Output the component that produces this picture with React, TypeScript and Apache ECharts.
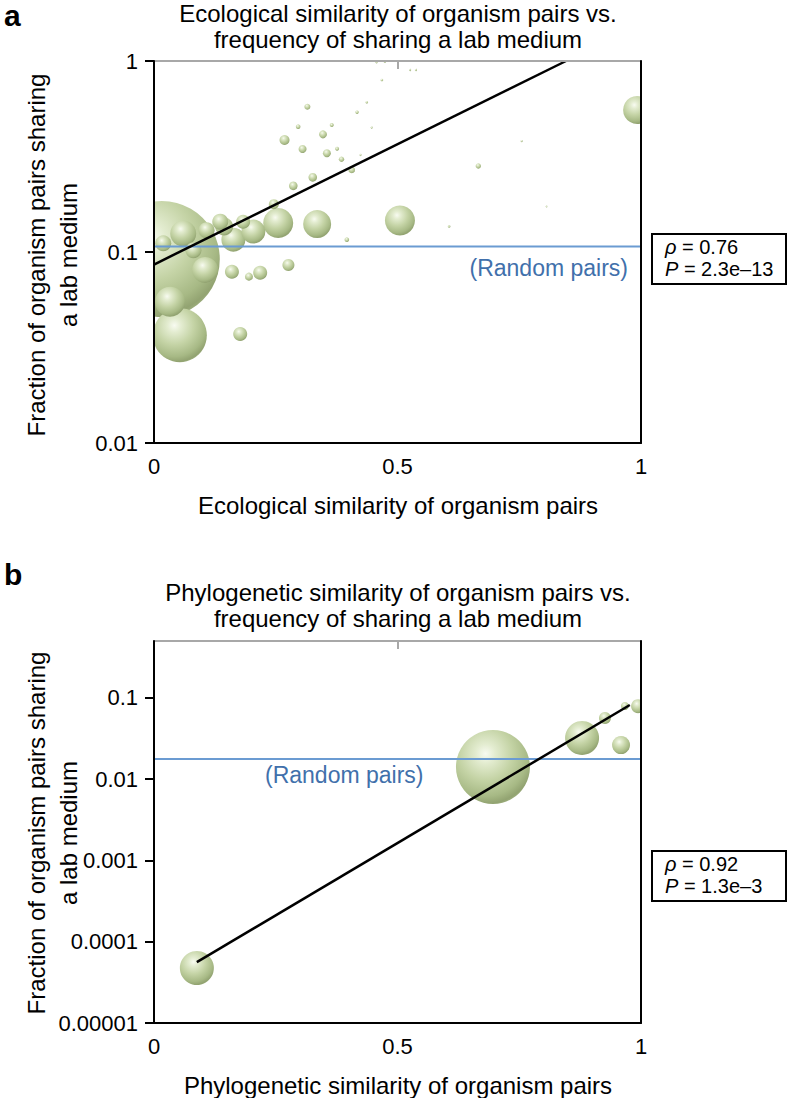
import React, { useEffect, useRef } from 'react';
import * as echarts from 'echarts';

const FONT = '"Liberation Sans", Arial, Helvetica, sans-serif';

// ---------- Panel a : ecological similarity ----------
const ecoX = [0.016, 0.053, 0.033, 0.255, 0.505, 0.335, 0.992, 0.060, 0.105, 0.163, 0.204, 0.144, 0.136, 0.108, 0.081, 0.019, 0.160, 0.218, 0.183, 0.177, 0.276, 0.268, 0.246, 0.195, 0.347, 0.305, 0.355, 0.326, 0.286, 0.315, 0.406, 0.385, 0.666, 0.296, 0.396, 0.365, 0.376, 0.417, 0.437, 0.468, 0.606, 0.424, 0.447, 0.526, 0.538, 0.755, 0.457, 0.474, 0.806];
const ecoY = [0.092, 0.0367, 0.0549, 0.142, 0.146, 0.140, 0.554, 0.125, 0.0805, 0.116, 0.128, 0.136, 0.144, 0.130, 0.102, 0.111, 0.0788, 0.0779, 0.144, 0.0372, 0.0855, 0.386, 0.178, 0.0743, 0.413, 0.346, 0.329, 0.246, 0.222, 0.576, 0.269, 0.306, 0.282, 0.453, 0.116, 0.462, 0.347, 0.539, 0.608, 0.795, 0.136, 0.322, 0.448, 0.897, 0.897, 0.381, 0.984, 0.99, 0.173];
const ecoWeight = [58, 27, 15, 15, 15, 14, 14, 13, 13, 12, 12, 9, 8, 8, 8, 8, 7, 7, 7, 7, 6, 5, 5, 4, 4, 4, 4, 4.3, 4.3, 3, 3.3, 2.7, 2.7, 2.3, 2.3, 2, 2, 1.7, 1.3, 1.3, 1.3, 1, 1, 1, 1, 1, 1, 1, 0.8];
const ecoFitX = [0, 0.846];
const ecoFitY = [0.086, 1];
const ecoRandom = 0.107;
const ecoYTicks = [0.01, 0.1, 1];
const ecoYTickLabels = ['0.01', '0.1', '1'];
const ecoStats = ['0.76', '2.3e\u201313'];

// ---------- Panel b : phylogenetic similarity ----------
const phyX = [0.696, 0.879, 0.088, 0.959, 0.994, 0.926, 0.967];
const phyY = [0.0141, 0.0321, 0.0000475, 0.0262, 0.079, 0.0565, 0.0794];
const phyWeight = [37, 17, 17, 9, 7, 6, 4];
const phyFitX = [0.088, 0.977];
const phyFitY = [0.000056, 0.0815];
const phyRandom = 0.0177;
const phyYTicks = [0.00001, 0.0001, 0.001, 0.01, 0.1];
const phyYTickLabels = ['0.00001', '0.0001', '0.001', '0.01', '0.1'];
const phyStats = ['0.92', '1.3e\u20133'];

const xTicks = [0, 0.5, 1];
const xTickLabels = ['0', '0.5', '1'];

function labelFor(ticks: number[], labels: string[], log: boolean) {
  return (v: number) => {
    for (let i = 0; i < ticks.length; i++) {
      const d = log ? Math.abs(Math.log10(v) - Math.log10(ticks[i])) : Math.abs(v - ticks[i]);
      if (d < 1e-6) return labels[i];
    }
    return '';
  };
}

function sphereFill() {
  return new echarts.graphic.RadialGradient(0.4, 0.32, 0.72, [
    { offset: 0, color: '#f8fbf1' },
    { offset: 0.18, color: '#e3ecd0' },
    { offset: 0.5, color: '#c4d3a5' },
    { offset: 0.8, color: '#a7b985' },
    { offset: 0.94, color: '#92a371' },
    { offset: 1, color: '#a0b180' },
  ]);
}

function bubbleSeries(xs: number[], ys: number[], ws: number[], axisIndex: number) {
  const order = xs.map((_, i) => i).sort((a, b) => ws[b] - ws[a]);
  return {
    type: 'custom',
    xAxisIndex: axisIndex,
    yAxisIndex: axisIndex,
    clip: true,
    z: 2,
    silent: true,
    data: order.map((i) => [xs[i], ys[i], ws[i]]),
    encode: { x: 0, y: 1 },
    renderItem: (_params: any, api: any) => {
      const c = api.coord([api.value(0), api.value(1)]);
      const r = api.value(2);
      return {
        type: 'circle',
        shape: { cx: c[0], cy: c[1], r },
        style: { fill: sphereFill(), stroke: null },
      };
    },
  };
}

function lineSeries(xs: number[], ys: number[], axisIndex: number, color: string, width: number) {
  return {
    type: 'line',
    xAxisIndex: axisIndex,
    yAxisIndex: axisIndex,
    data: xs.map((x, i) => [x, ys[i]]),
    symbol: 'none',
    silent: true,
    z: 3,
    lineStyle: { color, width },
  };
}

function bottomX(gi: number) {
  return {
    gridIndex: gi,
    type: 'value',
    position: 'bottom',
    min: 0,
    max: 1,
    interval: 0.5,
    z: 10,
    axisLine: { show: true, onZero: false, lineStyle: { color: '#000', width: 2 } },
    axisTick: { show: false },
    splitLine: { show: false },
    axisLabel: {
      color: '#000',
      fontSize: 22,
      fontFamily: FONT,
      margin: 12,
      formatter: labelFor(xTicks, xTickLabels, false),
    },
  };
}

function topX(gi: number) {
  return {
    gridIndex: gi,
    type: 'value',
    position: 'top',
    min: 0,
    max: 1,
    interval: 0.5,
    z: 9,
    axisLine: { show: true, onZero: false, lineStyle: { color: '#a8a8a8', width: 2 } },
    axisTick: { show: true, inside: true, length: 8, lineStyle: { color: '#a8a8a8', width: 2 } },
    axisLabel: { show: false },
    splitLine: { show: false },
  };
}

function leftY(gi: number, min: number, max: number, ticks: number[], labels: string[], custom: boolean) {
  const tick: any = { show: true, length: 9, lineStyle: { color: '#000', width: 2 } };
  const label: any = {
    color: '#000',
    fontSize: 22,
    fontFamily: FONT,
    margin: 16,
    formatter: labelFor(ticks, labels, true),
  };
  if (custom) {
    tick.customValues = ticks;
    label.customValues = ticks;
  }
  return {
    gridIndex: gi,
    type: 'log',
    logBase: 10,
    min,
    max,
    position: 'left',
    z: 10,
    axisLine: { show: true, onZero: false, lineStyle: { color: '#000', width: 2 } },
    axisTick: tick,
    axisLabel: label,
    splitLine: { show: false },
    minorTick: { show: false },
  };
}

function rightY(gi: number, min: number, max: number) {
  return {
    gridIndex: gi,
    type: 'log',
    logBase: 10,
    min,
    max,
    position: 'right',
    z: 10,
    axisLine: { show: true, onZero: false, lineStyle: { color: '#000', width: 2 } },
    axisTick: { show: false },
    axisLabel: { show: false },
    splitLine: { show: false },
  };
}

function txt(text: string, x: number, y: number, size: number, extra: any = {}) {
  return {
    type: 'text',
    z: 50,
    x,
    y,
    rotation: extra.rotation || 0,
    style: {
      text,
      x: 0,
      y: 0,
      fill: extra.fill || '#000',
      fontSize: size,
      fontFamily: FONT,
      fontWeight: extra.weight || 'normal',
      align: extra.align || 'center',
      textAlign: extra.align || 'center',
      verticalAlign: 'middle',
      textVerticalAlign: 'middle',
      lineHeight: extra.lineHeight || size * 1.2,
      rich: extra.rich,
    },
  };
}

function statsBox(top: number, stats: string[]) {
  const rich = { i: { fontStyle: 'italic', fontSize: 20, fontFamily: FONT, fill: '#000' } };
  return [
    {
      type: 'rect',
      z: 50,
      shape: { x: 652, y: top, width: 134, height: 50 },
      style: { fill: '#fff', stroke: '#000', lineWidth: 2 },
    },
    txt('{i|\u03c1} = ' + stats[0], 665, top + 13, 20, { align: 'left', rich }),
    txt('{i|P} = ' + stats[1], 665, top + 35, 20, { align: 'left', rich }),
  ];
}

function buildOption() {
  const blueText = '#4170ab';
  return {
    animation: false,
    backgroundColor: '#fff',
    grid: [
      { left: 154, top: 61, width: 487, height: 382, outerBoundsMode: 'none', containLabel: false },
      { left: 154, top: 641, width: 487, height: 382, outerBoundsMode: 'none', containLabel: false },
    ],
    xAxis: [bottomX(0), topX(0), bottomX(1), topX(1)],
    yAxis: [
      leftY(0, 0.01, 1, ecoYTicks, ecoYTickLabels, false),
      rightY(0, 0.01, 1),
      leftY(1, 0.00001, 0.5, phyYTicks, phyYTickLabels, true),
      rightY(1, 0.00001, 0.5),
    ],
    series: [
      bubbleSeries(ecoX, ecoY, ecoWeight, 0),
      lineSeries([0, 1], [ecoRandom, ecoRandom], 0, '#6b9bd2', 2),
      lineSeries(ecoFitX, ecoFitY, 0, '#000', 2.5),
      { ...bubbleSeries(phyX, phyY, phyWeight, 0), xAxisIndex: 2, yAxisIndex: 2 },
      { ...lineSeries([0, 1], [phyRandom, phyRandom], 0, '#6b9bd2', 2), xAxisIndex: 2, yAxisIndex: 2 },
      { ...lineSeries(phyFitX, phyFitY, 0, '#000', 2.5), xAxisIndex: 2, yAxisIndex: 2 },
    ],
    graphic: [
      txt('a', 4, 15, 30, { align: 'left', weight: 'bold' }),
      txt('Ecological similarity of organism pairs vs.\nfrequency of sharing a lab medium', 398, 26, 24, { lineHeight: 26 }),
      txt('Fraction of organism pairs sharing\na lab medium', 52, 255, 24, { rotation: Math.PI / 2, lineHeight: 32 }),
      txt('Ecological similarity of organism pairs', 398, 505, 24),
      txt('(Random pairs)', 628, 268, 23, { align: 'right', fill: blueText }),
      ...statsBox(234, ecoStats),

      txt('b', 4, 574, 30, { align: 'left', weight: 'bold' }),
      txt('Phylogenetic similarity of organism pairs vs.\nfrequency of sharing a lab medium', 398, 605, 24, { lineHeight: 26 }),
      txt('Fraction of organism pairs sharing\na lab medium', 52, 833, 24, { rotation: Math.PI / 2, lineHeight: 32 }),
      txt('Phylogenetic similarity of organism pairs', 398, 1085, 24),
      txt('(Random pairs)', 265, 775, 23, { align: 'left', fill: blueText }),
      ...statsBox(851, phyStats),
    ],
  };
}

export default function App() {
  const ref = useRef<HTMLDivElement>(null);
  useEffect(() => {
    if (!ref.current) return;
    const chart = echarts.init(ref.current, undefined, { renderer: 'svg' });
    chart.setOption(buildOption() as any);
    return () => {
      chart.dispose();
    };
  }, []);
  return (
    <div
      ref={ref}
      style={{ position: 'absolute', left: 0, top: 0, width: 788, height: 1098, background: '#fff' }}
    />
  );
}
